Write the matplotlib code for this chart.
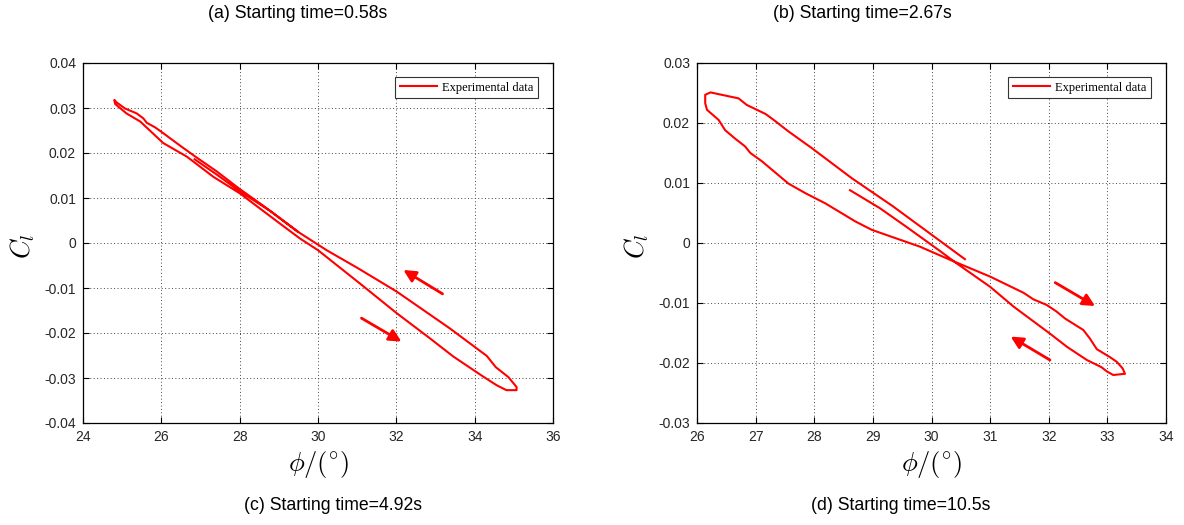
import matplotlib
matplotlib.use("Agg")
import matplotlib.pyplot as plt

plt.rcParams['font.family'] = ['Liberation Sans', 'DejaVu Sans']
plt.rcParams['mathtext.fontset'] = 'cm'

# panel (a) / (c): starting time 0.58s / 4.92s
phi_a = [29.48, 28.60, 28.00, 27.40, 26.90, 26.50, 26.05, 25.84, 25.63, 25.54, 25.37,
         25.07, 24.85, 24.80, 24.82, 25.11, 25.46, 26.05, 26.65, 27.33, 28.01, 29.00,
         29.54, 30.00, 31.07, 32.01, 32.86, 33.45, 34.22, 34.56, 34.81, 35.07, 35.07,
         34.86, 34.54, 34.31, 33.37, 32.69, 32.01, 31.00, 30.22, 29.54, 28.80, 28.00,
         27.40, 26.85]
cl_a = [0.0025, 0.0083, 0.0120, 0.0160, 0.0190, 0.0215, 0.0244, 0.0257, 0.0267, 0.0277, 0.0288,
        0.0299, 0.0313, 0.0318, 0.0309, 0.0288, 0.0270, 0.0222, 0.0192, 0.0147, 0.0110, 0.0045,
        0.0010, -0.0016, -0.0090, -0.0156, -0.0212, -0.0252, -0.0297, -0.0316, -0.0327, -0.0327, -0.0320,
        -0.0298, -0.0276, -0.0251, -0.0190, -0.0149, -0.0108, -0.0055, -0.0016, 0.0022, 0.0070, 0.0115,
        0.0153, 0.0186]
arrows_a = [((33.18, -0.0113), (32.18, -0.0060)), ((31.11, -0.0167), (32.13, -0.0219))]

# panel (b) / (d): starting time 2.67s / 10.5s
phi_b = [28.61, 29.12, 29.60, 30.14, 30.43, 31.00, 31.40, 32.02, 32.31, 32.65, 32.90,
         32.99, 33.10, 33.30, 33.26, 33.16, 33.04, 32.82, 32.70, 32.59, 32.28, 32.13,
         31.96, 31.74, 31.57, 31.00, 30.34, 29.80, 29.33, 28.98, 28.70, 28.19, 27.85,
         27.56, 27.11, 26.91, 26.82, 26.65, 26.48, 26.37, 26.17, 26.14, 26.14, 26.23,
         26.71, 26.85, 27.00, 27.17, 27.31, 27.56, 27.96, 28.64, 29.33, 30.57]
cl_b = [0.0088, 0.0058, 0.0025, -0.0013, -0.0034, -0.0073, -0.0106, -0.0151, -0.0173, -0.0195, -0.0207,
        -0.0214, -0.0220, -0.0218, -0.0209, -0.0198, -0.0190, -0.0177, -0.0159, -0.0145, -0.0126, -0.0114,
        -0.0103, -0.0094, -0.0083, -0.0056, -0.0029, -0.0006, 0.0010, 0.0022, 0.0036, 0.0066, 0.0083,
        0.0099, 0.0136, 0.0150, 0.0161, 0.0174, 0.0188, 0.0205, 0.0222, 0.0233, 0.0247, 0.0251,
        0.0241, 0.0230, 0.0223, 0.0215, 0.0205, 0.0186, 0.0158, 0.0108, 0.0062, -0.0027]
arrows_b = [((32.11, -0.0066), (32.79, -0.0105)), ((32.02, -0.0195), (31.35, -0.0156))]

xticks_a = [24, 26, 28, 30, 32, 34, 36]
yticks_a = [-0.04, -0.03, -0.02, -0.01, 0, 0.01, 0.02, 0.03, 0.04]
xticks_b = [26, 27, 28, 29, 30, 31, 32, 33, 34]
yticks_b = [-0.03, -0.02, -0.01, 0, 0.01, 0.02, 0.03]

W, H = 1184, 525
fig = plt.figure(figsize=(W / 100, H / 100), dpi=100)


def fmt(v):
    if v == 0:
        return '0'
    return '%.2f' % v


def panel(rect, phi, cl, arrows, xt, yt):
    ax = fig.add_axes(rect)
    ax.plot(phi, cl, color='#ff0000', lw=1.5, label='Experimental data')
    for (x0, y0), (x1, y1) in arrows:
        ax.annotate('', xy=(x1, y1), xytext=(x0, y0),
                    arrowprops=dict(arrowstyle='-|>', color='#ff0000', lw=2.0,
                                    mutation_scale=18, shrinkA=0, shrinkB=0))
    ax.set_xlim(xt[0], xt[-1])
    ax.set_ylim(yt[0], yt[-1])
    ax.set_xticks(xt)
    ax.set_yticks(yt)
    ax.set_xticklabels([str(v) for v in xt])
    ax.set_yticklabels([fmt(v) for v in yt])
    ax.tick_params(direction='in', top=True, right=True, length=4, width=0.8,
                   labelsize=10, labelcolor='#262626', pad=5)
    ax.grid(True, color='#444444', linestyle=(0, (1, 2.5)), lw=0.7)
    for sp in ax.spines.values():
        sp.set_linewidth(0.9)
    w_px = rect[2] * W
    ax.set_xlabel(r'$\phi/(^{\circ})$', fontsize=19)
    ax.xaxis.set_label_coords(0.5, -42 / 360)
    ax.xaxis.label.set_va('center')
    ax.set_ylabel(r'$C_l$', fontsize=19)
    ax.yaxis.set_label_coords(-60 / w_px, 0.49)
    ax.yaxis.label.set_va('center')
    leg = ax.legend(loc='upper right', bbox_to_anchor=(0.968, 0.96),
                    prop={'family': 'Liberation Serif', 'size': 9},
                    fancybox=False, framealpha=1, edgecolor='#333333',
                    handlelength=3.0, borderpad=0.35, handletextpad=0.4,
                    borderaxespad=0)
    leg.get_frame().set_linewidth(0.8)
    return ax


panel([83 / W, 1 - 423 / H, 470 / W, 360 / H], phi_a, cl_a, arrows_a, xticks_a, yticks_a)
panel([697 / W, 1 - 423 / H, 469 / W, 360 / H], phi_b, cl_b, arrows_b, xticks_b, yticks_b)

fig.text(298 / W, 1 - 14 / H, '(a) Starting time=0.58s', ha='center', va='center', fontsize=12.7)
fig.text(862 / W, 1 - 14 / H, '(b) Starting time=2.67s', ha='center', va='center', fontsize=12.7)
fig.text(333 / W, 1 - 505 / H, '(c) Starting time=4.92s', ha='center', va='center', fontsize=12.7)
fig.text(901 / W, 1 - 505 / H, '(d) Starting time=10.5s', ha='center', va='center', fontsize=12.7)

fig.savefig('out.png', dpi=100)
